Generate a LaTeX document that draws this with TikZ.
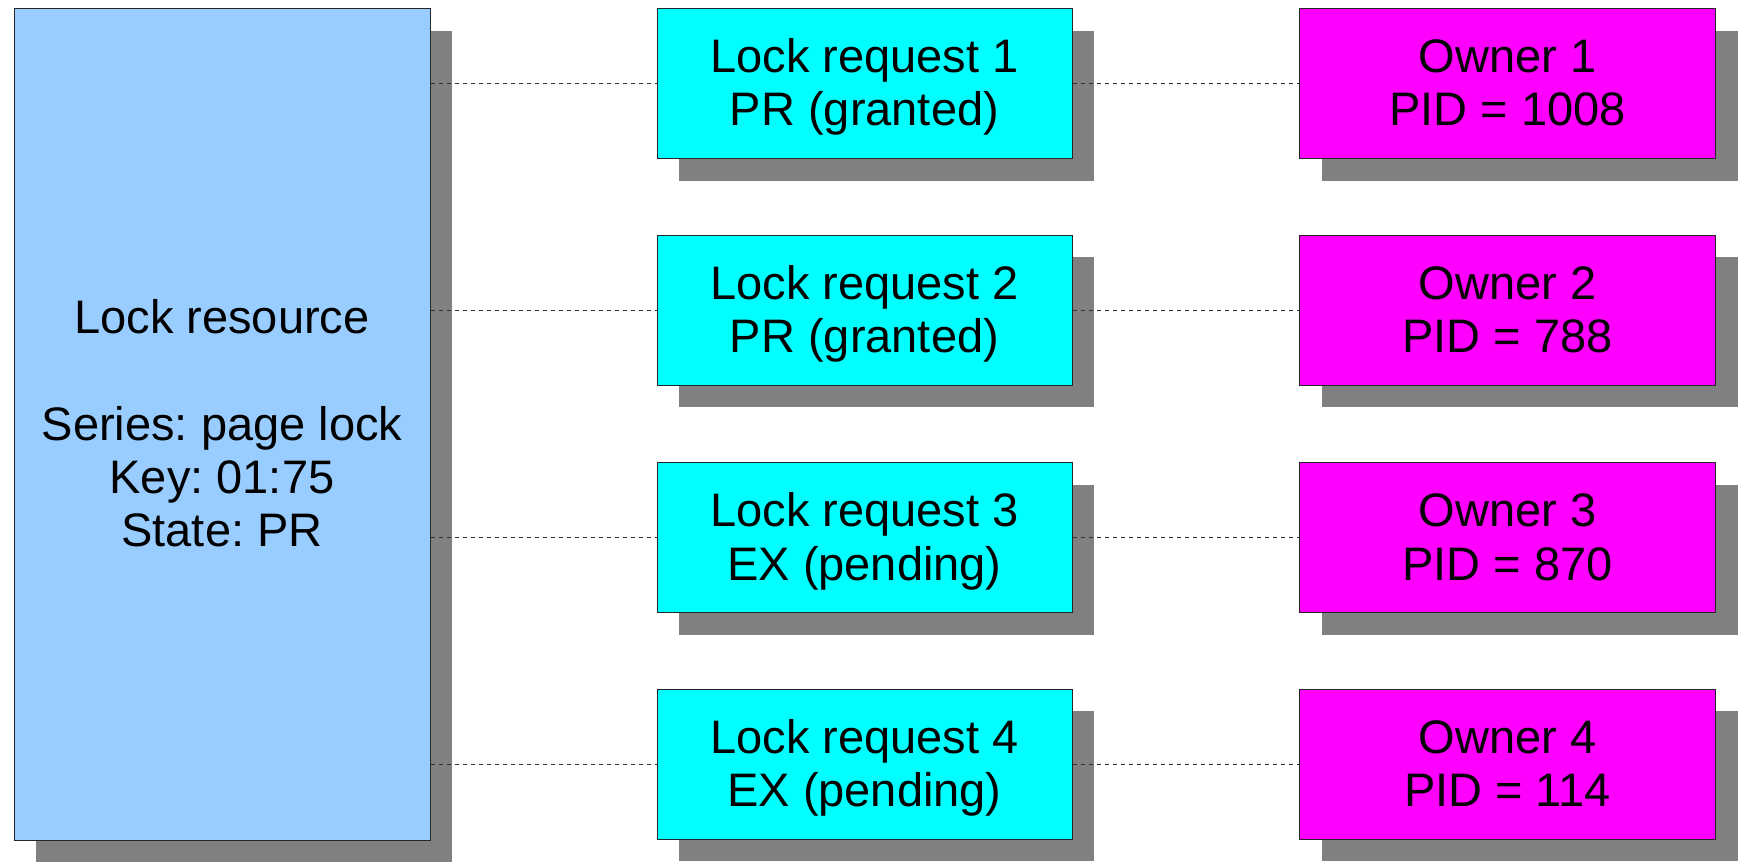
\documentclass[tikz,border=0pt]{standalone}
\usepackage{fontspec}
\setmainfont{Liberation Sans}
\frenchspacing
\usetikzlibrary{shadows}
\definecolor{resblue}{HTML}{99CCFF}
\definecolor{reqcyan}{HTML}{00FFFF}
\definecolor{ownmag}{HTML}{FF00FF}
\definecolor{shadowgray}{HTML}{808080}
\definecolor{linegray}{HTML}{333333}
\tikzset{
  box/.style={draw=black!85, line width=1pt, align=center, inner sep=0pt,
    font=\fontsize{47}{53.3}\selectfont, text height=94.6pt, text depth=10pt,
    drop shadow={shadow xshift=22pt, shadow yshift=-22pt, fill=shadowgray, opacity=1}},
  resbox/.style={box, fill=resblue, minimum width=416pt, minimum height=831pt, text height=254.4pt},
  reqbox/.style={box, fill=reqcyan, minimum width=415pt, minimum height=150pt},
  ownbox/.style={box, fill=ownmag, minimum width=416pt, minimum height=150pt},
  link/.style={draw=linegray, line width=1pt, dash pattern=on 4pt off 4pt}
}
\begin{document}
\begin{tikzpicture}[x=1pt,y=-1pt]
\useasboundingbox (0,0) rectangle (1738,866);
\node[resbox] (res) at (222,424.5) {Lock resource\\[53.3pt]Series: page lock\\Key: 01:75\\State: PR};
\node[reqbox] (r1) at (864.5,83.7) {Lock request 1\\PR (granted)};
\node[reqbox] (r2) at (864.5,310.3) {Lock request 2\\PR (granted)};
\node[reqbox] (r3) at (864.5,537.7) {Lock request 3\\EX (pending)};
\node[reqbox] (r4) at (864.5,764.3) {Lock request 4\\EX (pending)};
\node[ownbox] (o1) at (1507.5,83.7) {Owner 1\\PID = 1008};
\node[ownbox] (o2) at (1507.5,310.3) {Owner 2\\PID = 788};
\node[ownbox] (o3) at (1507.5,537.7) {Owner 3\\PID = 870};
\node[ownbox] (o4) at (1507.5,764.3) {Owner 4\\PID = 114};
\foreach \i in {1,2,3,4}{
  \draw[link] (res.east |- r\i.west) -- (r\i.west);
  \draw[link] (r\i.east) -- (o\i.west);
}
\end{tikzpicture}
\end{document}
